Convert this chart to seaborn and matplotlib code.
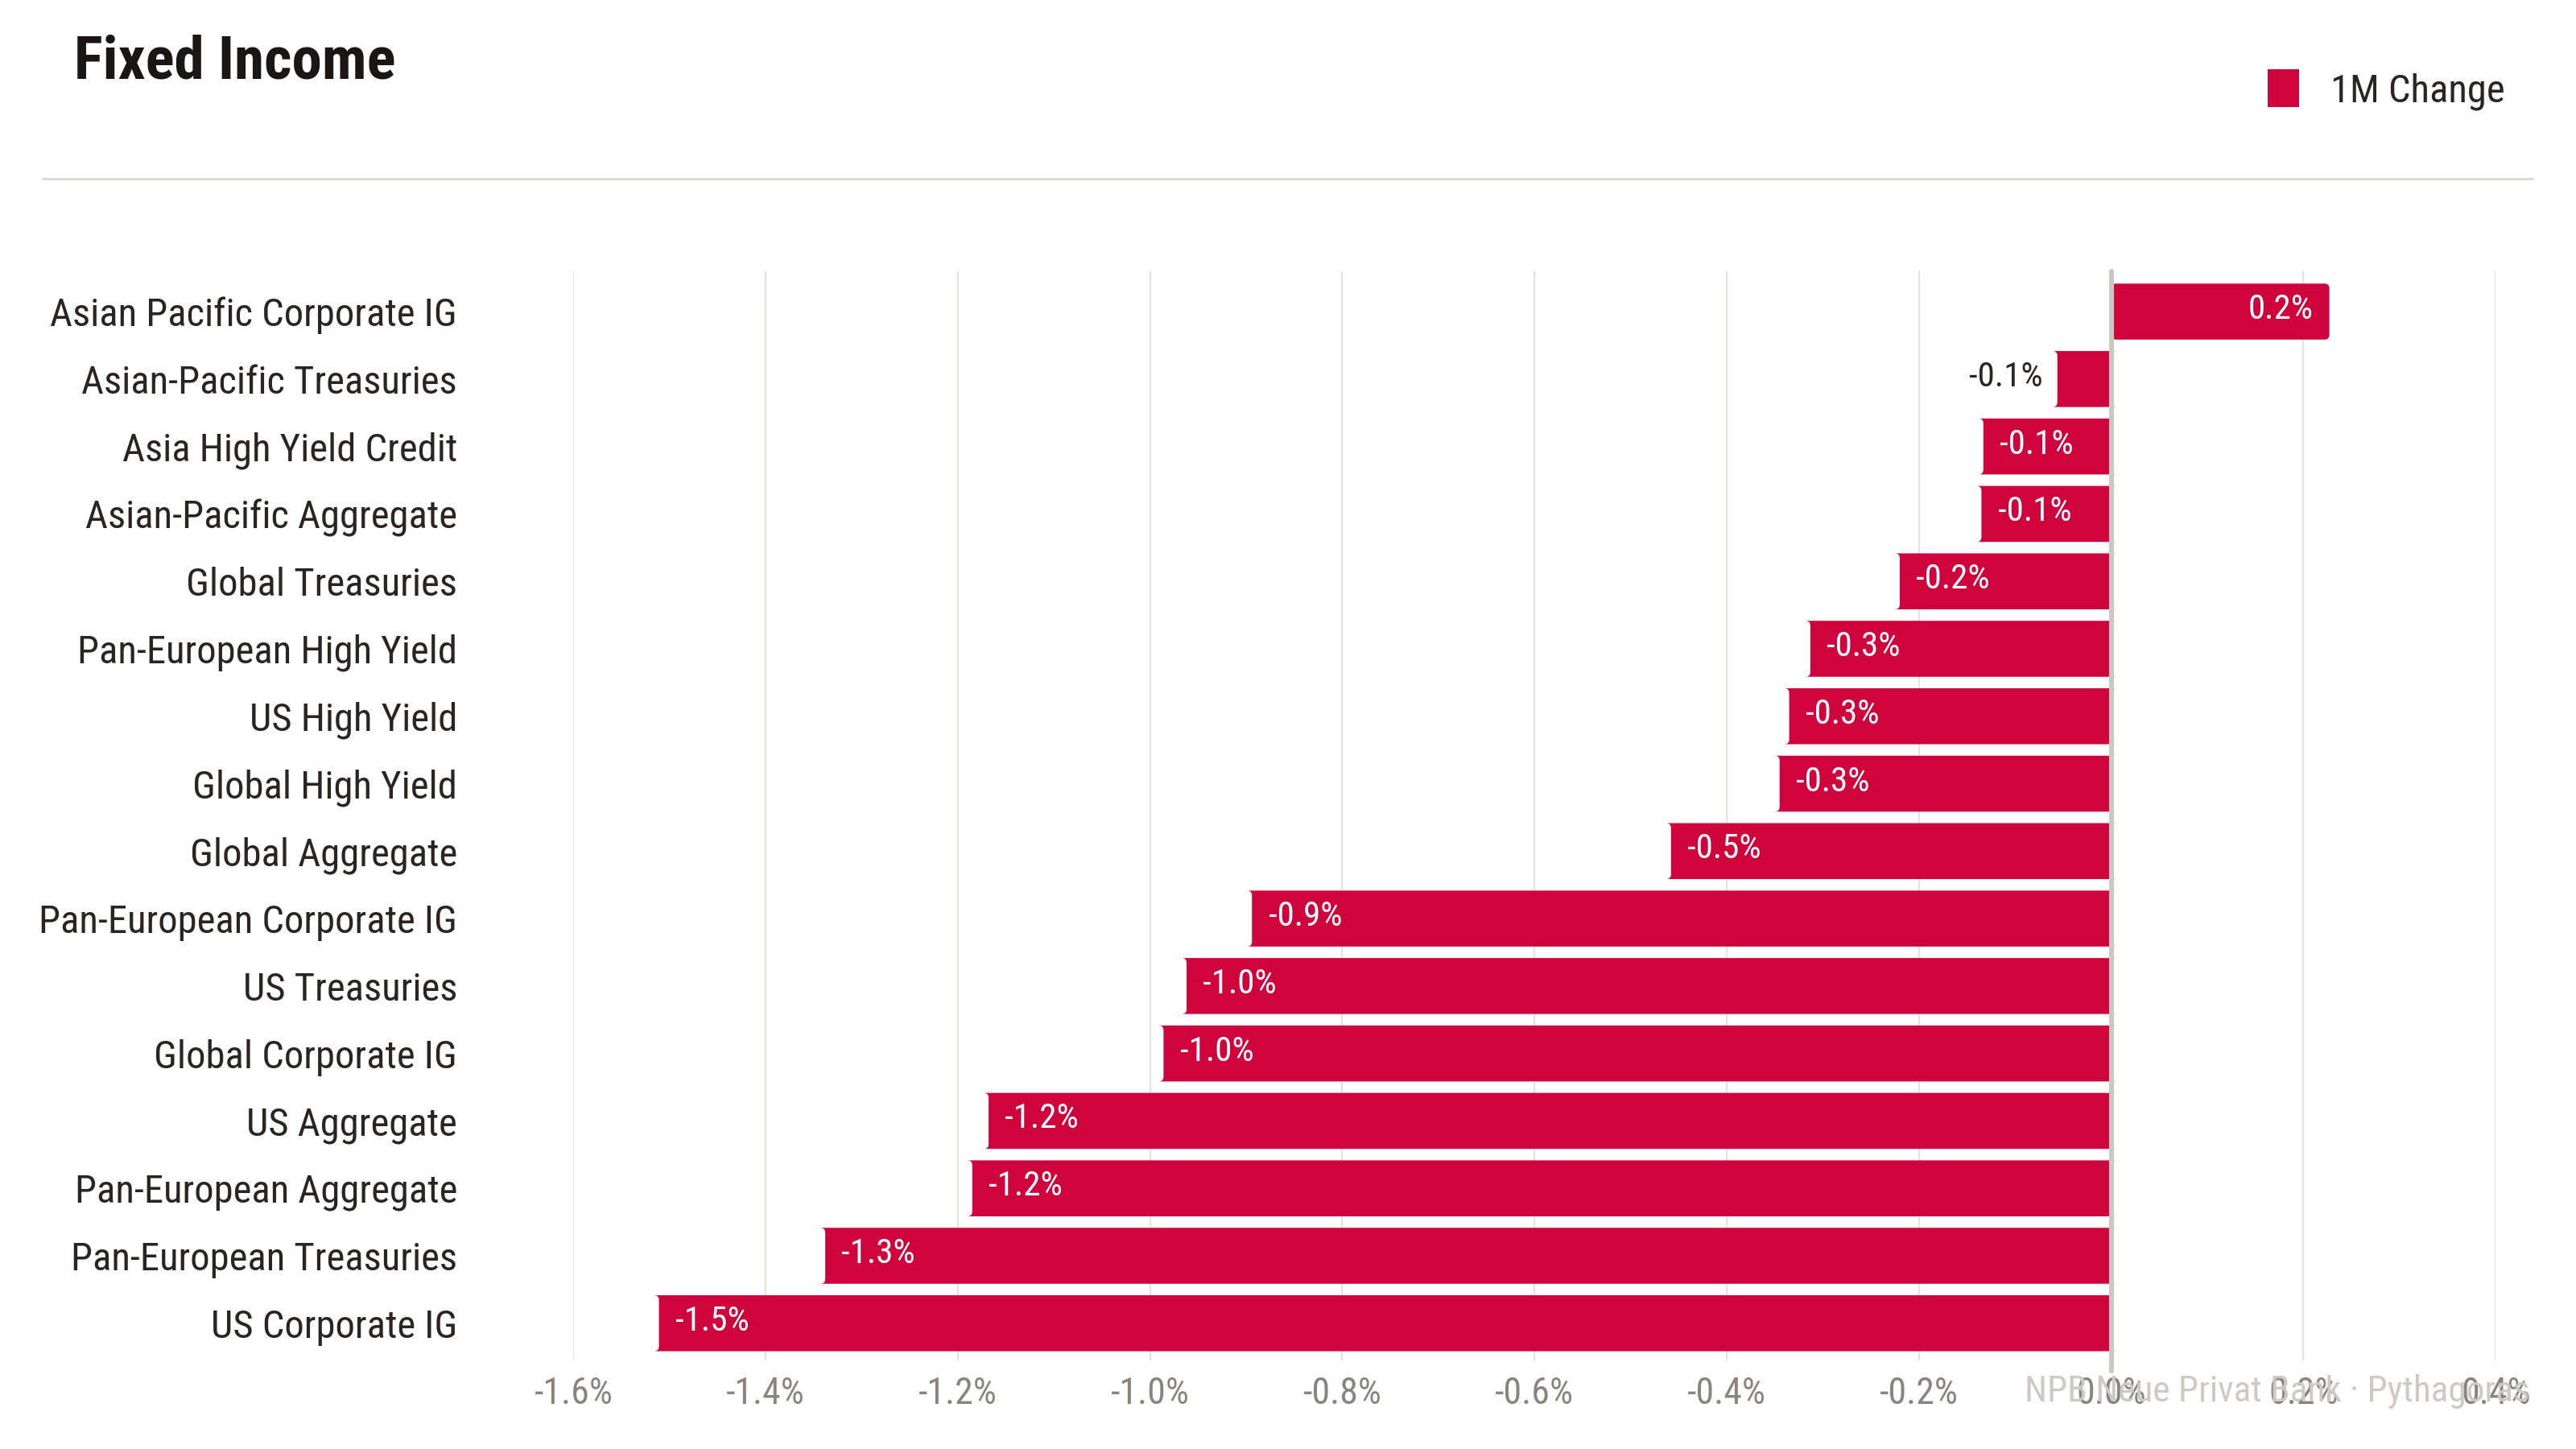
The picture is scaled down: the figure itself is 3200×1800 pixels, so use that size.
import matplotlib
matplotlib.use("Agg")
import matplotlib.pyplot as plt
from matplotlib import font_manager
from matplotlib.patches import FancyBboxPatch, Patch
import seaborn as sns
import pandas as pd

categories = [
    "Asian Pacific Corporate IG",
    "Asian-Pacific Treasuries",
    "Asia High Yield Credit",
    "Asian-Pacific Aggregate",
    "Global Treasuries",
    "Pan-European High Yield",
    "US High Yield",
    "Global High Yield",
    "Global Aggregate",
    "Pan-European Corporate IG",
    "US Treasuries",
    "Global Corporate IG",
    "US Aggregate",
    "Pan-European Aggregate",
    "Pan-European Treasuries",
    "US Corporate IG",
]
change_1m = [0.227, -0.056, -0.133, -0.135, -0.22, -0.313, -0.335, -0.345,
             -0.458, -0.894, -0.962, -0.986, -1.168, -1.185, -1.338, -1.511]
x_ticks = [-1.6, -1.4, -1.2, -1.0, -0.8, -0.6, -0.4, -0.2, 0.0, 0.2, 0.4]

RED = "#d0043c"
DARK = "#2a2522"
TICK = "#8a847e"
GRID = "#e6e3df"

sns.set_style("white")
# pick a narrow font if one is installed
installed = {f.name for f in font_manager.fontManager.ttflist}
prefs = ["Roboto Condensed", "Liberation Sans Narrow", "DejaVu Sans Condensed",
         "Open Sans Condensed", "Roboto"]
narrow = next((f for f in prefs if f in installed), "DejaVu Sans")
plt.rcParams["font.family"] = [narrow, "DejaVu Sans"]

df = pd.DataFrame({"category": categories, "change": change_1m})

fig = plt.figure(figsize=(16, 9), dpi=200)
ax = fig.add_axes([0.2226, 0.0612, 0.7462, 0.7517])

sns.barplot(data=df, x="change", y="category", orient="h", color=RED,
            width=0.83, saturation=1, ax=ax, zorder=2)

ax.set_xlim(-1.6, 0.4)
ax.set_ylim(15.55, -0.6)

# rounded corners on the bars
pos = ax.get_position()
px_x = pos.width * 3200 / 2.0
px_y = pos.height * 1800 / 16.15
r_px = 6
for p in list(ax.patches):
    bb = p.get_bbox()
    rb = FancyBboxPatch((bb.x0, bb.y0), bb.width, bb.height,
                        boxstyle=f"round,pad=0,rounding_size={r_px / px_x}",
                        mutation_aspect=px_x / px_y,
                        facecolor=RED, edgecolor="none", zorder=2)
    p.remove()
    ax.add_patch(rb)

# value labels
for i, v in enumerate(change_1m):
    txt = f"{v:.1f}%"
    if v >= 0:
        ax.text(v - 0.017, i - 0.03, txt, ha="right", va="center",
                color="white", fontsize=15.5, zorder=3)
    elif abs(v) < 0.1:
        ax.text(v - 0.015, i - 0.03, txt, ha="right", va="center",
                color=DARK, fontsize=15.5, zorder=3)
    else:
        ax.text(v + 0.017, i - 0.03, txt, ha="left", va="center",
                color="white", fontsize=15.5, zorder=3)

ax.set_xticks(x_ticks)
ax.set_xticklabels([f"{t:.1f}%" for t in x_ticks])
ax.grid(axis="x", color=GRID, linewidth=0.8, zorder=0)
ax.grid(axis="y", visible=False)
ax.axvline(0, color="#cbc7c2", linewidth=2.2, zorder=2.5,
           ymin=-0.01, ymax=1, clip_on=False)
for s in ax.spines.values():
    s.set_visible(False)
ax.tick_params(axis="x", length=0, pad=7, labelsize=16.5, labelcolor=TICK)
ax.tick_params(axis="y", length=0, pad=52, labelsize=17.5, labelcolor=DARK)
ax.set_xlabel("")
ax.set_ylabel("")

# title, separator, legend, source
fig.text(0.0287, 0.957, "Fixed Income", fontsize=27, fontweight="bold",
         color="#1a1614", ha="left", va="center")
fig.add_artist(plt.Line2D([0.0166, 0.983], [0.8764, 0.8764],
                          color="#dcd9d5", linewidth=1.1))
fig.legend(handles=[Patch(facecolor=RED, edgecolor="none")],
           labels=["1M Change"], loc="center right",
           bbox_to_anchor=(0.986, 0.938), frameon=False, fontsize=17.5,
           handlelength=0.8, handleheight=1.1, handletextpad=0.8,
           labelcolor=DARK)
fig.text(0.982, 0.0397, "NPB Neue Privat Bank · Pythagoras", fontsize=16.3,
         color="#cdc9c4", ha="right", va="center")

fig.savefig("out.png", dpi=200)
